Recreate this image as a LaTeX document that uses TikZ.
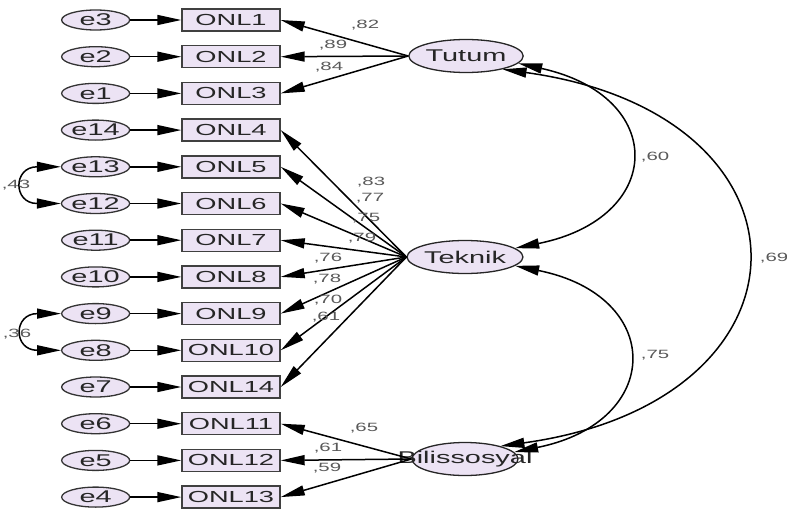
\documentclass[tikz,border=0pt]{standalone}
\usepackage{fontspec}
\setmainfont{Liberation Sans}[FakeStretch=1.7]
\usetikzlibrary{positioning,shapes.geometric,arrows.meta}
\definecolor{lav}{HTML}{ECE3F4}

\tikzset{
  obs/.style={draw=black!75,line width=1.4pt,fill=lav,minimum width=98pt,minimum height=22pt,inner sep=0pt,text=black!85,font=\fontsize{16}{16}\selectfont},
  err/.style={ellipse,draw=black!80,line width=1.3pt,fill=lav,minimum width=68pt,minimum height=20pt,inner sep=0pt,text=black!85,font=\fontsize{17}{17}\selectfont},
  lat/.style={ellipse,draw=black!85,line width=1.3pt,fill=lav,minimum width=106pt,minimum height=33pt,inner sep=0pt,text=black!85,font=\fontsize{17}{17}\selectfont},
  ld/.style={-{Triangle[length=24pt,width=10pt]},line width=1.5pt},
  cv/.style={{Triangle[length=24pt,width=10pt]}-{Triangle[length=24pt,width=10pt]},line width=1.5pt},
  est/.style={text=black!65,font=\fontsize{12}{12}\selectfont}
}

\begin{document}
\begin{tikzpicture}[x=1pt,y=-1pt,node distance=13.3pt and 51pt]
\useasboundingbox (0,0) rectangle (787,511);
% observed items
\node[obs] (0) at (231,20) {ONL1};
\node[obs] (1) [below=of 0] {ONL2};
\node[obs] (2) [below=of 1] {ONL3};
\node[obs] (3) [below=of 2] {ONL4};
\node[obs] (4) [below=of 3] {ONL5};
\node[obs] (5) [below=of 4] {ONL6};
\node[obs] (6) [below=of 5] {ONL7};
\node[obs] (7) [below=of 6] {ONL8};
\node[obs] (8) [below=of 7] {ONL9};
\node[obs] (9) [below=of 8] {ONL10};
\node[obs] (10) [below=of 9] {ONL14};
\node[obs] (11) [below=of 10] {ONL11};
\node[obs] (12) [below=of 11] {ONL12};
\node[obs] (13) [below=of 12] {ONL13};
% error terms
\node[err] (e3) [left=of 0] {e3};
\node[err] (e2) [left=of 1] {e2};
\node[err] (e1) [left=of 2] {e1};
\node[err] (e14) [left=of 3] {e14};
\node[err] (e13) [left=of 4] {e13};
\node[err] (e12) [left=of 5] {e12};
\node[err] (e11) [left=of 6] {e11};
\node[err] (e10) [left=of 7] {e10};
\node[err] (e9) [left=of 8] {e9};
\node[err] (e8) [left=of 9] {e8};
\node[err] (e7) [left=of 10] {e7};
\node[err] (e6) [left=of 11] {e6};
\node[err] (e5) [left=of 12] {e5};
\node[err] (e4) [left=of 13] {e4};
% factors
\node[lat] (Tutum) at (466,56) {Tutum};
\node[lat] (Teknik) at (465,257) {Teknik};
\node[lat] (Bilis) at (465,459) {\makebox[0pt]{Bilissosyal}};

\draw[ld](e3)--(0);
\draw[ld](e2)--(1);
\draw[ld](e1)--(2);
\draw[ld](e14)--(3);
\draw[ld](e13)--(4);
\draw[ld](e12)--(5);
\draw[ld](e11)--(6);
\draw[ld](e10)--(7);
\draw[ld](e9)--(8);
\draw[ld](e8)--(9);
\draw[ld](e7)--(10);
\draw[ld](e6)--(11);
\draw[ld](e5)--(12);
\draw[ld](e4)--(13);

\draw[ld](Tutum.west)--(0.east);
\draw[ld](Tutum.west)--(1.east);
\draw[ld](Tutum.west)--(2.east);
\draw[ld](Teknik.west)--(3.east);
\draw[ld](Teknik.west)--(4.east);
\draw[ld](Teknik.west)--(5.east);
\draw[ld](Teknik.west)--(6.east);
\draw[ld](Teknik.west)--(7.east);
\draw[ld](Teknik.west)--(8.east);
\draw[ld](Teknik.west)--(9.east);
\draw[ld](Teknik.west)--(10.east);
\draw[ld](Bilis.west)--(11.east);
\draw[ld](Bilis.west)--(12.east);
\draw[ld](Bilis.west)--(13.east);

\draw[cv](Tutum.-8) .. controls +(150,33) and +(150,-30) .. (Teknik.10);
\draw[cv](Teknik.-10) .. controls +(150,30) and +(150,-30) .. (Bilis.8);
\draw[cv](Tutum.-20) .. controls +(325,45) and +(325,-45) .. (Bilis.20);
\draw[cv](e13.west) .. controls +(-48,0) and +(-48,0) .. (e12.west);
\draw[cv](e9.west) .. controls +(-48,0) and +(-48,0) .. (e8.west);

% estimates
\node[est] (w1) at (365,25) {,82};
\node[est] (w2) at (333,45) {,89};
\node[est] (w3) at (329,67) {,84};
\node[est] (w4) at (371,182) {,83};
\node[est] (w5) at (370,198) {,77};
\node[est] (w6) at (366,218) {,75};
\node[est] (w7) at (362,238) {,79};
\node[est] (w8) at (328,258) {,76};
\node[est] (w9) at (327,279) {,78};
\node[est] (w10) at (328,300) {,70};
\node[est] (w11) at (326,317) {,61};
\node[est] (w12) at (364,428) {,65};
\node[est] (w13) at (328,448) {,61};
\node[est] (w14) at (327,468) {,59};
\node[est] (r1) at (655,157) {,60};
\node[est] (r2) at (774,258) {,69};
\node[est] (r3) at (655,355) {,75};
\node[est] (r4) at (16,185) {,43};
\node[est] (r5) at (17,334) {,36};
\end{tikzpicture}
\end{document}
